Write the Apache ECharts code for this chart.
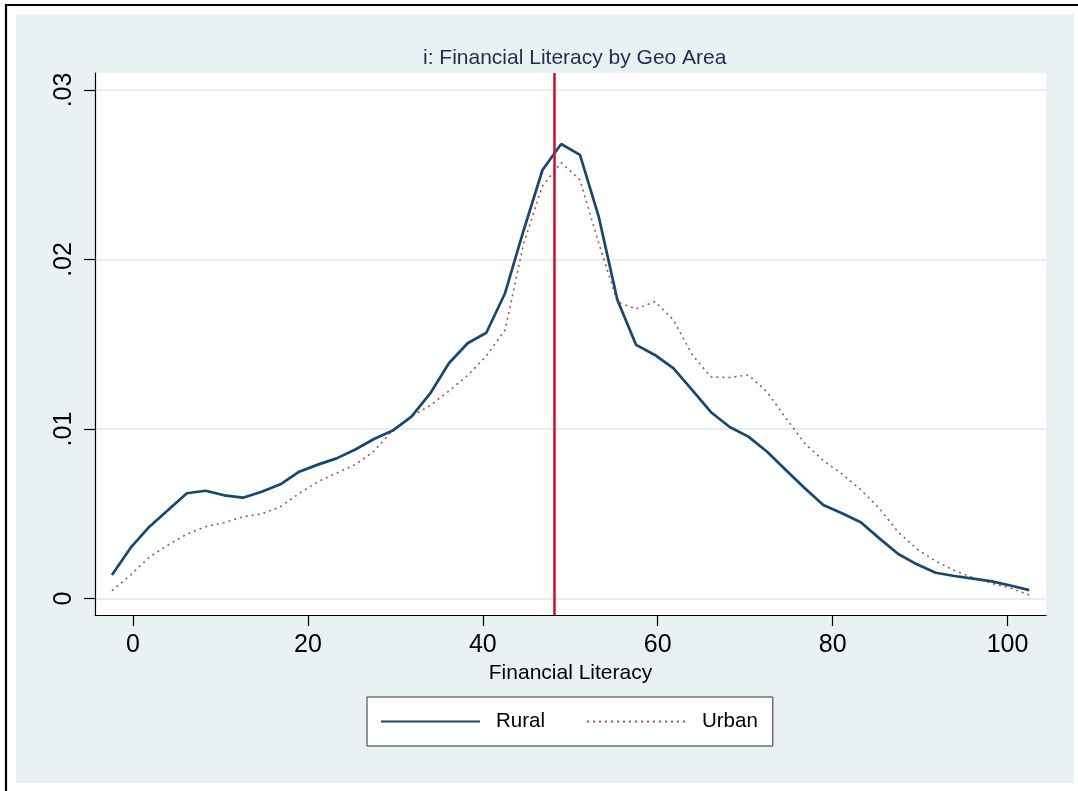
<!DOCTYPE html>
<html>
<head>
<meta charset="utf-8">
<script src="https://cdn.jsdelivr.net/npm/echarts@6/dist/echarts.min.js"></script>
<style>
  html, body { margin: 0; padding: 0; background: #fff; }
  #chart { width: 1078px; height: 791px; }
</style>
</head>
<body>
<div id="chart"></div>
<script>
// kdensity evaluation points
const xPoints = [-2.41, -0.27, 1.87, 4.01, 6.15, 8.29, 10.43, 12.57, 14.71, 16.86,
  19.0, 21.14, 23.28, 25.42, 27.56, 29.70, 31.84, 33.98, 36.12, 38.26,
  40.40, 42.54, 44.68, 46.82, 48.96, 51.11, 53.25, 55.39, 57.53, 59.67,
  61.81, 63.95, 66.09, 68.23, 70.37, 72.51, 74.65, 76.79, 78.93, 81.07,
  83.21, 85.35, 87.50, 89.64, 91.78, 93.92, 96.06, 98.20, 100.34, 102.48];

const rural = [0.00139, 0.0030, 0.00424, 0.00522, 0.00621, 0.00636, 0.00609, 0.00595, 0.0063, 0.00674,
  0.00748, 0.0079, 0.00827, 0.00879, 0.00941, 0.00991, 0.01073, 0.0121, 0.01388, 0.01506,
  0.01568, 0.01801, 0.02174, 0.02528, 0.02681, 0.02617, 0.02253, 0.01761, 0.01496, 0.01437,
  0.01358, 0.0123, 0.01099, 0.01012, 0.00955, 0.00866, 0.00758, 0.00652, 0.00552, 0.00503,
  0.0045, 0.00355, 0.00263, 0.00202, 0.00152, 0.00133, 0.00118, 0.00101, 0.00077, 0.0005];

const urban = [0.00046, 0.00139, 0.00245, 0.00316, 0.0038, 0.00424, 0.00448, 0.00482, 0.00499, 0.00542,
  0.0062, 0.00689, 0.0074, 0.0079, 0.0087, 0.00994, 0.01074, 0.01139, 0.01224, 0.01316,
  0.01431, 0.01584, 0.02097, 0.02434, 0.02571, 0.02469, 0.02097, 0.01749, 0.01708, 0.01752,
  0.01643, 0.01437, 0.01307, 0.01304, 0.01319, 0.01218, 0.01065, 0.00917, 0.00814, 0.00735,
  0.00643, 0.00531, 0.00392, 0.00292, 0.00221, 0.00165, 0.00124, 0.0009, 0.00062, 0.00021];

const xTicks = [0, 20, 40, 60, 80, 100];
const yTicks = [0, 0.01, 0.02, 0.03];
const meanLine = 48.2;

const font = '"Liberation Sans", Arial, sans-serif';
const bg = '#e9f1f3';

const chart = echarts.init(document.getElementById('chart'));

chart.setOption({
    backgroundColor: '#fff',
    animation: false,
    textStyle: { fontFamily: font },
    graphic: [
        { type: 'rect', z: -10, shape: { x: 16, y: 14, width: 1058, height: 769 }, style: { fill: bg } },
        { type: 'line', z: -5, shape: { x1: 5, y1: 5, x2: 1078, y2: 5 }, style: { stroke: '#000', lineWidth: 2.2 } },
        { type: 'line', z: -5, shape: { x1: 6, y1: 4, x2: 6, y2: 791 }, style: { stroke: '#000', lineWidth: 2.2 } }
    ],
    title: {
        text: 'i: Financial Literacy by Geo Area',
        left: 423,
        top: 48,
        padding: 0,
        textStyle: { fontFamily: font, fontSize: 21, fontWeight: 'normal', color: '#1e2d4f' }
    },
    legend: {
        left: 367,
        top: 697,
        padding: [14, 15, 14, 13],
        backgroundColor: '#fff',
        borderColor: '#333',
        borderWidth: 1,
        borderRadius: 0,
        itemWidth: 99,
        itemHeight: 14,
        itemGap: 41,
        itemStyle: { opacity: 0 },
        textStyle: { fontFamily: font, fontSize: 20.5, color: '#000', padding: [0, 0, 0, 11] },
        data: ['Rural', 'Urban']
    },
    grid: {
        left: 95,
        right: 32,
        top: 73,
        bottom: 176,
        show: true,
        backgroundColor: '#fff',
        borderWidth: 0
    },
    xAxis: {
        type: 'value',
        min: -4.35,
        max: 104.4,
        name: 'Financial Literacy',
        nameLocation: 'middle',
        nameGap: 45,
        nameTextStyle: { fontFamily: font, fontSize: 21, color: '#000' },
        axisLine: { onZero: false, lineStyle: { color: '#000', width: 1.2 } },
        axisTick: { length: 11, lineStyle: { color: '#000', width: 1.2 }, customValues: xTicks },
        axisLabel: { fontFamily: font, fontSize: 25, color: '#000', margin: 18, customValues: xTicks },
        splitLine: { show: false }
    },
    yAxis: {
        type: 'value',
        min: -0.00097,
        max: 0.031,
        axisLine: { show: true, onZero: false, lineStyle: { color: '#000', width: 1.2 } },
        axisTick: { show: true, length: 11, lineStyle: { color: '#000', width: 1.2 }, customValues: yTicks },
        axisLabel: {
            fontFamily: font, fontSize: 25, color: '#000', margin: 18, rotate: 90,
            customValues: yTicks,
            formatter: v => v === 0 ? '0' : v.toFixed(2).replace(/^0/, '')
        },
        splitLine: { show: true, lineStyle: { color: '#e6eef1', width: 2 } }
    },
    series: [
        {
            name: 'Rural',
            type: 'line',
            symbol: 'none',
            data: xPoints.map((x, i) => [x, rural[i]]),
            lineStyle: { color: '#1a476f', width: 2.7 },
            itemStyle: { color: '#1a476f' },
            markLine: {
                silent: true,
                symbol: 'none',
                label: { show: false },
                lineStyle: { color: '#c8102e', width: 2.5, type: 'solid' },
                data: [{ xAxis: meanLine }]
            },
            z: 3
        },
        {
            name: 'Urban',
            type: 'line',
            symbol: 'none',
            data: xPoints.map((x, i) => [x, urban[i]]),
            lineStyle: { color: '#90353b', width: 1.6, type: [2, 4], opacity: 0.85 },
            itemStyle: { color: '#90353b' },
            z: 2
        }
    ]
});
</script>
</body>
</html>
